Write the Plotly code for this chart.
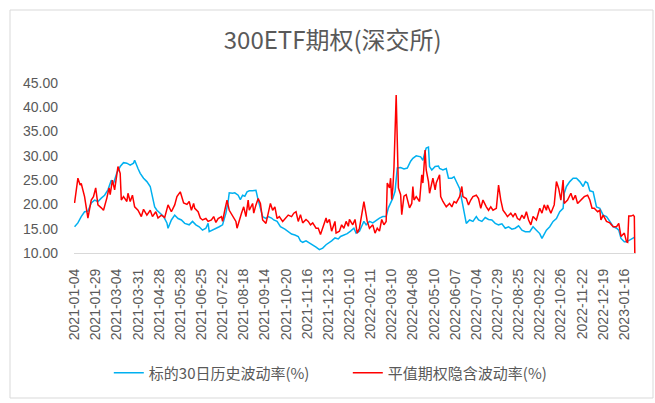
import plotly.graph_objects as go

# Tick labels (every 19th trading day)
tick_labels = ["2021-01-04", "2021-01-29", "2021-03-04", "2021-03-31", "2021-04-28",
               "2021-05-28", "2021-06-25", "2021-07-22", "2021-08-18", "2021-09-14",
               "2021-10-20", "2021-11-16", "2021-12-13", "2022-01-10", "2022-02-11",
               "2022-03-10", "2022-04-08", "2022-05-10", "2022-06-07", "2022-07-04",
               "2022-07-29", "2022-08-25", "2022-09-22", "2022-10-26", "2022-11-22",
               "2022-12-19", "2023-01-16"]
tick_step = 19

# 标的30日历史波动率 (trading-day index, value)
hv_day = [0, 3, 6, 9, 12, 15, 18, 21, 24, 27, 30, 33, 35, 38, 41, 44, 47, 50, 53, 54,
          57, 59, 62, 65, 68, 70, 72, 74, 77, 80, 83, 84, 87, 90, 93, 96, 99, 103, 106, 109,
          112, 115, 118, 120, 121, 124, 127, 130, 133, 136, 138, 139, 142, 144, 147, 149, 151, 153, 155, 157,
          160, 163, 165, 167, 169, 172, 174, 177, 179, 182, 185, 189, 192, 195, 198, 201, 203, 205, 208, 211,
          214, 217, 220, 223, 226, 229, 231, 234, 237, 239, 242, 245, 248, 251, 253, 256, 258, 260, 262, 265,
          268, 271, 274, 277, 280, 282, 284, 286, 288, 290, 293, 296, 299, 301, 302, 304, 307, 311, 313, 315,
          316, 318, 319, 321, 324, 327, 328, 331, 334, 336, 339, 341, 343, 346, 348, 350, 352, 355, 358, 361,
          363, 366, 369, 372, 375, 378, 381, 384, 387, 390, 393, 396, 399, 402, 405, 409, 412, 415, 418, 420,
          422, 424, 427, 430, 433, 436, 439, 440, 442, 445, 448, 451, 454, 457, 459, 461, 463, 466, 469, 472,
          475, 478, 481, 484, 487, 489, 491, 494, 496, 499, 502, 503]
hv_val = [15.4, 16.2, 17.5, 18.5, 18.6, 20.3, 20.9, 20.6, 21.3, 21.9, 23.0, 25.0, 24.3, 26.5, 27.8, 28.6, 28.5, 28.1, 28.5, 29.1,
          27.4, 26.4, 25.4, 24.7, 23.7, 21.6, 19.5, 18.8, 18.2, 17.5, 16.2, 15.1, 16.8, 17.8, 17.1, 16.8, 16.1, 15.8, 16.5, 15.8,
          15.4, 14.7, 15.1, 16.1, 14.4, 14.7, 15.1, 15.4, 15.8, 18.2, 20.6, 22.4, 22.3, 22.4, 21.9, 21.0, 21.9, 21.7, 22.6, 22.8,
          22.8, 22.9, 20.9, 19.2, 17.5, 17.1, 17.5, 17.2, 16.8, 16.5, 15.4, 14.9, 14.4, 13.9, 13.7, 13.4, 12.5, 12.2, 12.5, 12.1,
          11.7, 11.2, 10.7, 11.0, 11.7, 12.1, 12.5, 13.1, 12.9, 13.4, 13.7, 14.0, 14.5, 15.1, 14.1, 14.5, 15.5, 16.5, 15.8, 16.5,
          16.2, 16.8, 17.2, 17.5, 17.5, 19.3, 20.3, 21.3, 22.7, 27.5, 27.6, 27.3, 27.5, 28.5, 28.9, 29.5, 30.0, 29.8, 29.1, 30.9,
          31.6, 31.8, 27.8, 27.1, 27.8, 27.9, 27.4, 27.1, 27.4, 25.4, 25.4, 25.7, 24.7, 23.3, 20.9, 18.2, 16.1, 16.8, 16.5, 17.5,
          16.8, 16.5, 17.3, 16.9, 16.8, 16.1, 15.8, 16.0, 15.1, 15.4, 14.9, 15.1, 15.6, 14.7, 14.4, 14.4, 15.4, 14.7, 14.0, 13.0,
          14.0, 14.7, 15.4, 16.5, 17.1, 18.5, 19.2, 22.3, 23.7, 24.7, 25.4, 25.4, 24.7, 23.7, 24.7, 24.4, 22.8, 22.6, 19.5, 19.2,
          17.8, 17.5, 16.5, 15.4, 15.1, 14.7, 13.0, 12.3, 12.3, 12.7, 13.0, 13.2]

# 平值期权隐含波动率 (trading-day index, value)
iv_day = [0, 3, 5, 6, 9, 11, 12, 15, 17, 19, 21, 24, 26, 29, 31, 32, 34, 36, 39, 41,
          42, 44, 47, 48, 50, 52, 54, 57, 60, 62, 65, 68, 70, 73, 75, 78, 81, 84, 87, 90,
          92, 95, 98, 101, 103, 105, 107, 108, 111, 113, 115, 118, 120, 123, 125, 127, 129, 132, 133, 135,
          137, 139, 142, 145, 146, 148, 150, 152, 154, 156, 157, 160, 161, 163, 165, 167, 169, 172, 174, 176,
          178, 180, 182, 184, 187, 189, 192, 195, 197, 199, 201, 203, 205, 208, 210, 212, 214, 217, 219, 221,
          223, 226, 227, 229, 231, 234, 235, 238, 240, 242, 244, 246, 247, 250, 252, 254, 256, 258, 260, 262,
          263, 265, 268, 270, 272, 274, 276, 278, 280, 281, 283, 284, 285, 286, 287, 289, 290, 291, 293, 294,
          296, 298, 301, 303, 304, 305, 307, 310, 312, 313, 315, 316, 318, 319, 322, 324, 325, 328, 329, 331,
          334, 337, 339, 341, 343, 346, 348, 349, 352, 354, 356, 358, 361, 363, 365, 367, 370, 372, 374, 376,
          379, 381, 383, 385, 387, 389, 392, 394, 396, 398, 400, 402, 404, 406, 408, 410, 412, 415, 418, 420,
          422, 424, 425, 428, 431, 433, 435, 437, 439, 440, 443, 446, 448, 450, 452, 455, 458, 461, 463, 465,
          467, 470, 472, 473, 475, 478, 481, 484, 487, 489, 491, 494, 496, 497, 498, 500, 502, 503, 504]
iv_val = [20.3, 25.4, 24.0, 24.3, 21.6, 18.8, 17.2, 20.9, 21.6, 23.4, 19.9, 19.3, 18.8, 21.3, 23.4, 22.0, 25.0, 23.0, 27.8, 26.4,
          20.9, 21.6, 20.6, 22.3, 20.6, 21.9, 19.5, 18.8, 17.5, 19.0, 17.8, 18.8, 17.5, 18.5, 17.2, 17.8, 17.3, 19.9, 18.5, 19.9,
          21.6, 22.6, 20.3, 20.0, 20.6, 18.8, 20.2, 19.2, 18.5, 17.2, 16.8, 17.1, 16.5, 16.8, 17.5, 16.3, 17.1, 17.5, 16.5, 18.8,
          20.9, 18.8, 17.5, 16.5, 15.1, 16.8, 18.2, 19.5, 17.5, 20.9, 18.8, 20.2, 18.2, 19.9, 21.2, 20.2, 16.8, 16.1, 18.2, 20.2,
          18.8, 19.5, 17.1, 17.5, 16.5, 17.1, 17.8, 17.5, 18.2, 18.5, 16.5, 17.9, 16.2, 16.9, 16.5, 15.8, 16.2, 15.1, 15.1, 13.8,
          15.1, 17.2, 16.2, 16.9, 14.5, 16.5, 14.1, 14.5, 15.8, 15.1, 16.5, 15.5, 16.9, 15.8, 16.9, 14.1, 15.1, 17.9, 20.6, 17.9,
          16.5, 15.1, 15.8, 14.1, 15.1, 14.5, 16.9, 15.8, 16.5, 24.4, 23.4, 25.4, 21.0, 23.4, 27.5, 42.5, 29.6, 23.4, 22.0, 17.9,
          21.7, 22.0, 19.3, 20.2, 23.7, 20.9, 21.6, 20.6, 26.1, 24.4, 31.2, 27.1, 24.7, 22.3, 25.4, 23.0, 24.4, 26.1, 21.6, 20.6,
          19.5, 20.2, 19.5, 20.6, 20.3, 21.6, 23.7, 21.6, 21.2, 19.9, 20.9, 21.6, 21.9, 21.2, 19.2, 20.9, 19.5, 18.8, 19.5, 18.8,
          19.2, 24.0, 20.9, 18.8, 18.2, 17.5, 18.2, 17.5, 18.2, 17.1, 16.8, 17.8, 17.1, 18.5, 16.8, 15.8, 17.5, 16.8, 19.2, 18.2,
          19.9, 18.8, 19.9, 18.2, 19.9, 24.7, 23.3, 20.9, 25.0, 20.2, 20.9, 22.3, 20.9, 21.9, 20.2, 20.9, 21.6, 21.9, 20.9, 19.2,
          19.2, 18.5, 18.8, 16.8, 17.8, 16.5, 16.2, 15.4, 15.4, 16.1, 13.4, 14.1, 12.3, 12.2, 17.6, 17.6, 17.8, 17.5, 0.0]

series_names = ["标的30日历史波动率(%)", "平值期权隐含波动率(%)"]
title_text = "300ETF期权(深交所)"

grey = "#595959"
cjk = "Noto Sans CJK SC"

fig = go.Figure()
fig.add_trace(go.Scatter(x=hv_day, y=hv_val, mode="lines", name=series_names[0],
                         line=dict(color="#00B0F0", width=1.5)))
fig.add_trace(go.Scatter(x=iv_day, y=iv_val, mode="lines", name=series_names[1],
                         line=dict(color="#FF0000", width=1.5)))

tick_vals = [i * tick_step for i in range(len(tick_labels))]

fig.update_layout(
    width=655, height=403,
    margin=dict(l=74, r=19, t=83, b=150),
    paper_bgcolor="white", plot_bgcolor="white",
    showlegend=True,
    title=dict(text=title_text, x=0.508, xref="container", xanchor="center",
               y=1 - 41 / 403, yref="container", yanchor="middle",
               font=dict(family=cjk, size=24, color=grey)),
    legend=dict(orientation="h", xref="container", x=0.531, xanchor="center",
                yref="container", y=1 - 373 / 403, yanchor="middle",
                font=dict(family=cjk, size=15, color=grey),
                entrywidth=194, entrywidthmode="pixels",
                bgcolor="rgba(0,0,0,0)"),
    xaxis=dict(range=[-0.5, 504.5], tickmode="array", tickvals=tick_vals, ticktext=tick_labels,
               tickangle=-90, showgrid=False, zeroline=False, showline=True,
               linecolor="#D9D9D9", linewidth=1, ticks="", ticklabelstandoff=9,
               tickfont=dict(family="Liberation Sans", size=14, color=grey)),
    yaxis=dict(range=[10, 45], dtick=5, tick0=10, tickformat=".2f", showgrid=False,
               zeroline=False, showline=False, ticks="", ticklabelstandoff=15,
               tickfont=dict(family="Liberation Sans", size=14, color=grey)),
    shapes=[dict(type="rect", xref="paper", yref="paper",
                 x0=(10 - 74) / 562, x1=(653 - 74) / 562,
                 y0=(253 - 398) / 170, y1=(253 - 10) / 170,
                 line=dict(color="#D9D9D9", width=1), fillcolor="rgba(0,0,0,0)", layer="below")],
)

fig.write_html("out.html", config={"displayModeBar": False},
               post_script="document.body.style.margin='0px';")
